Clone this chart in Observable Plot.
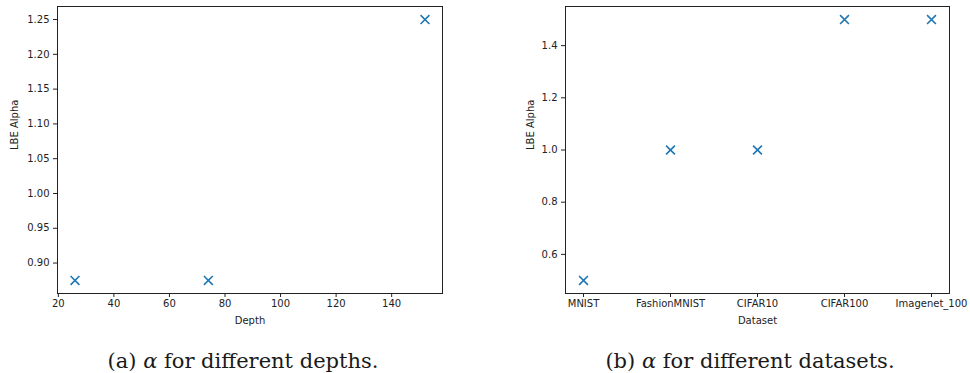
<!DOCTYPE html>
<html>
<head>
<meta charset="utf-8">
<script src="https://cdn.jsdelivr.net/npm/d3@7"></script>
<script src="https://cdn.jsdelivr.net/npm/@observablehq/plot@0.6"></script>
<style>
  html, body { margin: 0; padding: 0; background: #fff; }
  #wrap { position: relative; width: 970px; height: 373px; overflow: hidden; }
  .panel { position: absolute; top: 0; }
  .cap { position: absolute; font-family: "DejaVu Serif", serif; font-size: 21px; line-height: 21px; color: #1a1a1a; white-space: nowrap; transform: translateX(-50%); }
</style>
</head>
<body>
<div id="wrap">
  <div class="panel" id="a" style="left:0px"></div>
  <div class="panel" id="b" style="left:485px"></div>
  <div class="cap" style="left:243px; top:351px">(a) <i>α</i> for different depths.</div>
  <div class="cap" style="left:750px; top:351px">(b) <i>α</i> for different datasets.</div>
</div>
<script>
// Panel (a): depth vs LBE alpha
const depths = [26, 74, 152];
const depthAlpha = [0.875, 0.875, 1.25];
const depthTicks = [20, 40, 60, 80, 100, 120, 140];
const alphaTicksA = [0.90, 0.95, 1.00, 1.05, 1.10, 1.15, 1.20, 1.25];

// Panel (b): dataset vs LBE alpha
const datasets = ["MNIST", "FashionMNIST", "CIFAR10", "CIFAR100", "Imagenet_100"];
const datasetAlpha = [0.5, 1.0, 1.0, 1.5, 1.5];
const alphaTicksB = [0.6, 0.8, 1.0, 1.2, 1.4];

const blue = "#1f77b4";
const ink = "#222";
const font = "'DejaVu Sans', sans-serif";

const dataA = depths.map((d, i) => ({x: d, y: depthAlpha[i]}));
const dataB = datasets.map((d, i) => ({x: d, y: datasetAlpha[i]}));

function pad(lo, hi) { const m = (hi - lo) * 0.05; return [lo - m, hi + m]; }

const plotA = Plot.plot({
  width: 485, height: 330,
  marginLeft: 57, marginRight: 43, marginTop: 6, marginBottom: 37,
  style: {fontFamily: font, fontSize: "10px", color: ink, background: "#fff", overflow: "visible"},
  x: {domain: pad(d3.min(depths), d3.max(depths)), ticks: depthTicks, label: null},
  y: {domain: pad(d3.min(depthAlpha), d3.max(depthAlpha)), ticks: alphaTicksA, label: null},
  marks: [
    Plot.frame({stroke: ink, strokeWidth: 1}),
    Plot.axisX({ticks: depthTicks, tickSize: 4, tickPadding: 2, label: null, tickFormat: d3.format("d")}),
    Plot.axisY({ticks: alphaTicksA, tickSize: 4, tickPadding: 4, label: null, tickFormat: d3.format(".2f")}),
    Plot.dot(dataA, {x: "x", y: "y", symbol: "times", r: 4.1, stroke: blue, strokeWidth: 1.6}),
    Plot.text(["Depth"], {frameAnchor: "bottom", text: d => d, dy: 27, lineAnchor: "middle", fill: ink, fontSize: 10}),
    Plot.text(["LBE Alpha"], {frameAnchor: "left", text: d => d, dx: -43, rotate: -90, lineAnchor: "middle", fill: ink, fontSize: 10})
  ]
});
document.getElementById("a").appendChild(plotA);

const plotB = Plot.plot({
  width: 485, height: 330,
  marginLeft: 80, marginRight: 21, marginTop: 6, marginBottom: 37,
  style: {fontFamily: font, fontSize: "10px", color: ink, background: "#fff", overflow: "visible"},
  x: {type: "point", domain: datasets, padding: 0.2, label: null},
  y: {domain: pad(d3.min(datasetAlpha), d3.max(datasetAlpha)), ticks: alphaTicksB, label: null},
  marks: [
    Plot.frame({stroke: ink, strokeWidth: 1}),
    Plot.axisX({tickSize: 4, tickPadding: 2, label: null}),
    Plot.axisY({ticks: alphaTicksB, tickSize: 4, tickPadding: 4, label: null, tickFormat: d3.format(".1f")}),
    Plot.dot(dataB, {x: "x", y: "y", symbol: "times", r: 4.1, stroke: blue, strokeWidth: 1.6}),
    Plot.text(["Dataset"], {frameAnchor: "bottom", text: d => d, dy: 27, lineAnchor: "middle", fill: ink, fontSize: 10}),
    Plot.text(["LBE Alpha"], {frameAnchor: "left", text: d => d, dx: -35, rotate: -90, lineAnchor: "middle", fill: ink, fontSize: 10})
  ]
});
document.getElementById("b").appendChild(plotB);
</script>
</body>
</html>
